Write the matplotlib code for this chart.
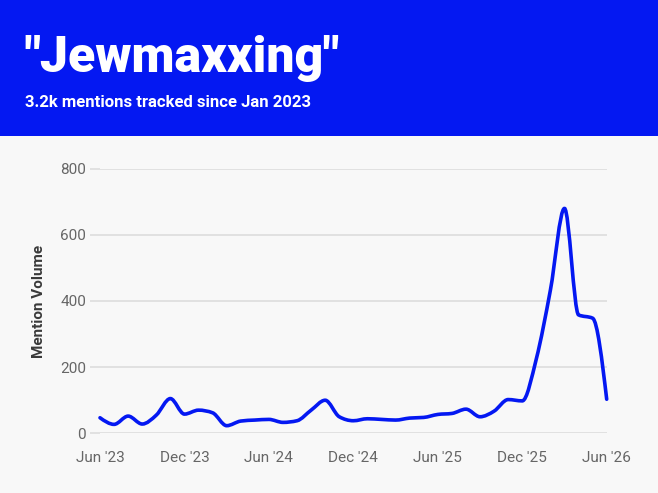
import numpy as np
import matplotlib
matplotlib.use("Agg")
from matplotlib import pyplot as plt
from matplotlib.path import Path
from matplotlib.patches import PathPatch, Rectangle

title = '"Jewmaxxing"'
subtitle = "3.2k mentions tracked since Jan 2023"
ylabel = "Mention Volume"

# monthly mention volume, Jun 2023 .. Jun 2026
months = list(range(37))
volume = [47, 27, 52, 28, 55, 105, 58, 70, 62, 23, 37, 40, 42,
          33, 38, 70, 100, 50, 38, 44, 42, 40, 46, 48, 57, 60,
          73, 50, 67, 102, 98, 225, 433, 680, 358, 348, 103]
tick_pos = [0, 6, 12, 18, 24, 30, 36]
tick_labels = ["Jun '23", "Dec '23", "Jun '24", "Dec '24", "Jun '25", "Dec '25", "Jun '26"]

BLUE = "#0418F2"
BG = "#F8F8F8"


def monotone_path(xs, ys):
    # cubic bezier path, same tangents as d3.curveMonotoneX
    xs = np.asarray(xs, float)
    ys = np.asarray(ys, float)
    n = len(xs)
    h = np.diff(xs)
    s = np.diff(ys) / h
    t = np.zeros(n)
    for i in range(1, n - 1):
        p = (s[i - 1] * h[i] + s[i] * h[i - 1]) / (h[i - 1] + h[i])
        t[i] = (np.sign(s[i - 1]) + np.sign(s[i])) * min(abs(s[i - 1]), abs(s[i]), 0.5 * abs(p))
    t[0] = (3 * s[0] - t[1]) / 2
    t[-1] = (3 * s[-1] - t[-2]) / 2
    verts = [(xs[0], ys[0])]
    codes = [Path.MOVETO]
    for i in range(n - 1):
        dx = h[i] / 3
        verts += [(xs[i] + dx, ys[i] + dx * t[i]),
                  (xs[i + 1] - dx, ys[i + 1] - dx * t[i + 1]),
                  (xs[i + 1], ys[i + 1])]
        codes += [Path.CURVE4] * 3
    return Path(verts, codes)


fig = plt.figure(figsize=(6.58, 4.93), dpi=100)
fig.patch.set_facecolor(BG)

# blue header band
fig.add_artist(Rectangle((0, 1 - 136 / 493), 1, 136 / 493, transform=fig.transFigure,
                         facecolor=BLUE, edgecolor="none", zorder=0))
fig.text(24 / 658, 1 - 72 / 493, title, color="white", fontsize=36,
         family="Roboto", fontweight="black", va="baseline", ha="left")
fig.text(25 / 658, 1 - 107 / 493, subtitle, color="white", fontsize=12,
         family="Roboto", fontweight="bold", va="baseline", ha="left")

ax = fig.add_axes([100 / 658, 1 - 433.3 / 493, 506.7 / 658, 264.6 / 493])
ax.set_facecolor(BG)
ax.set_xlim(0, 36)
ax.set_ylim(0, 800)
ax.set_yticks([0, 200, 400, 600, 800])
ax.set_xticks(tick_pos)
ax.set_xticklabels(tick_labels)
ax.grid(axis="y", color="#DDDDDD", linewidth=1.2)
ax.set_axisbelow(True)
for sp in ax.spines.values():
    sp.set_visible(False)
ax.tick_params(axis="y", length=7, width=1.2, color="#DDDDDD", pad=3,
               labelsize=11, labelcolor="#666666")
ax.tick_params(axis="x", length=0, pad=13, labelsize=11, labelcolor="#666666")
for lbl in ax.get_xticklabels() + ax.get_yticklabels():
    lbl.set_family("Roboto")
ax.set_ylabel(ylabel, family="Roboto", fontweight="bold", fontsize=11,
              color="#3A3A3A", labelpad=10)

ax.add_patch(PathPatch(monotone_path(months, volume), facecolor="none", edgecolor=BLUE,
                       linewidth=2.6, capstyle="round", joinstyle="round", clip_on=False))

fig.savefig("out.png", dpi=100, facecolor=fig.get_facecolor())
